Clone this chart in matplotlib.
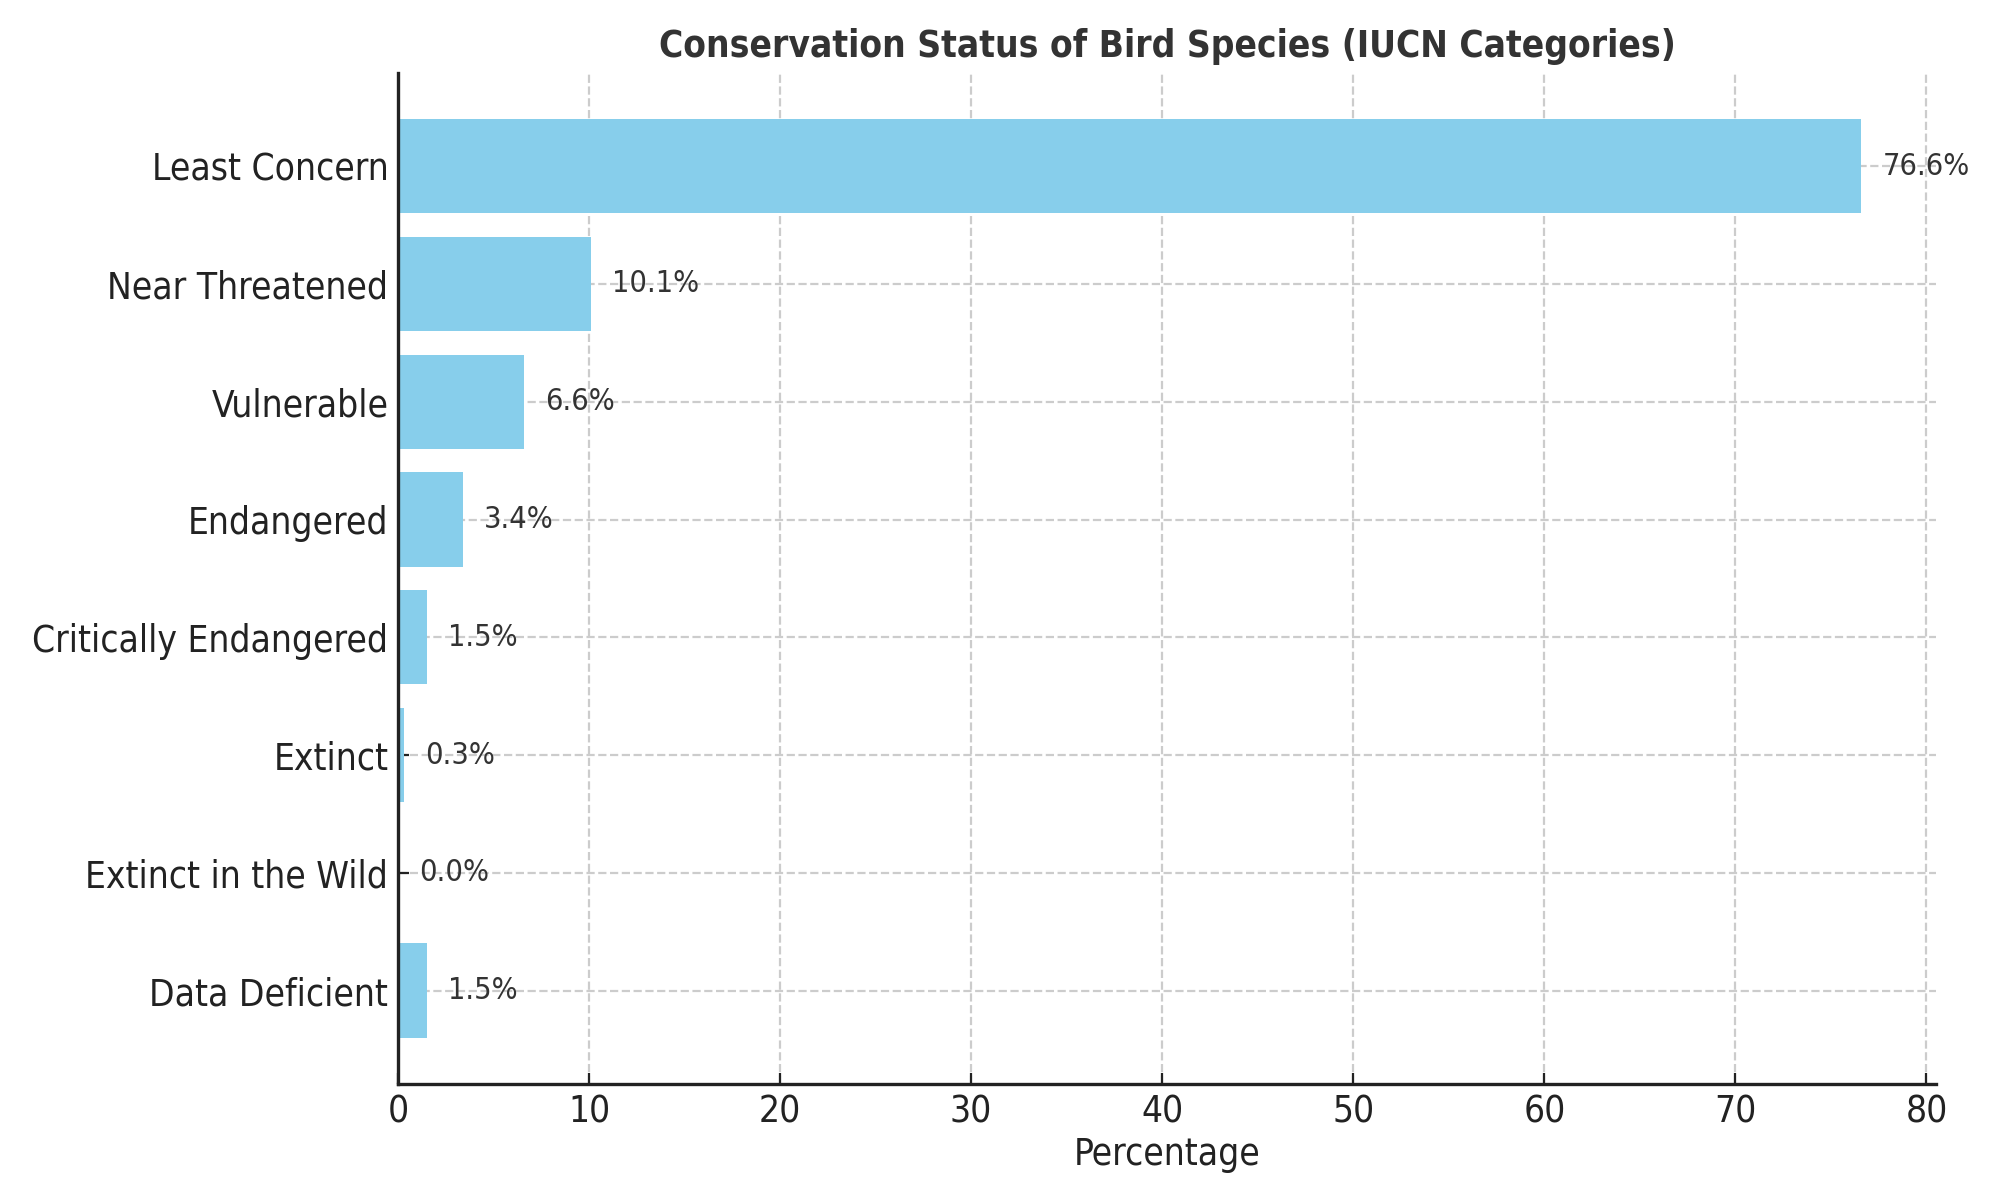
import matplotlib
matplotlib.use("Agg")
import matplotlib.pyplot as plt

categories = ["Least Concern", "Near Threatened", "Vulnerable", "Endangered",
              "Critically Endangered", "Extinct", "Extinct in the Wild", "Data Deficient"]
percentages = [76.6, 10.1, 6.6, 3.4, 1.5, 0.3, 0.0, 1.5]
x_ticks = [0, 10, 20, 30, 40, 50, 60, 70, 80]

# the reference text looks a bit narrower than plain DejaVu Sans
plt.rcParams['font.stretch'] = 'condensed'

fig, ax = plt.subplots(figsize=(10, 6), dpi=200)
fig.subplots_adjust(left=0.199, right=0.968, top=0.939, bottom=0.097)

bars = ax.barh(categories, percentages, color="skyblue", height=0.8, zorder=2)
ax.invert_yaxis()

for bar, val in zip(bars, percentages):
    ax.text(bar.get_width() + 1.1, bar.get_y() + bar.get_height() / 2, f"{val:.1f}%",
            va="center", ha="left", fontsize=11, color="#333333")

ax.set_xticks(x_ticks)
ax.set_xlim(0, 80.5)
ax.set_xlabel("Percentage", fontsize=13.3, color="#222222", labelpad=2)
ax.set_title("Conservation Status of Bird Species (IUCN Categories)",
             fontsize=13.3, fontweight="bold", color="#333333")
ax.tick_params(axis="both", labelsize=13.3, colors="#222222", length=4, direction="in")
ax.grid(True, linestyle="--", color="#cccccc", linewidth=0.8, zorder=0)

for side in ["top", "right"]:
    ax.spines[side].set_visible(False)
for side in ["left", "bottom"]:
    ax.spines[side].set_color("#222222")
    ax.spines[side].set_linewidth(1.2)

plt.savefig("out.png")
